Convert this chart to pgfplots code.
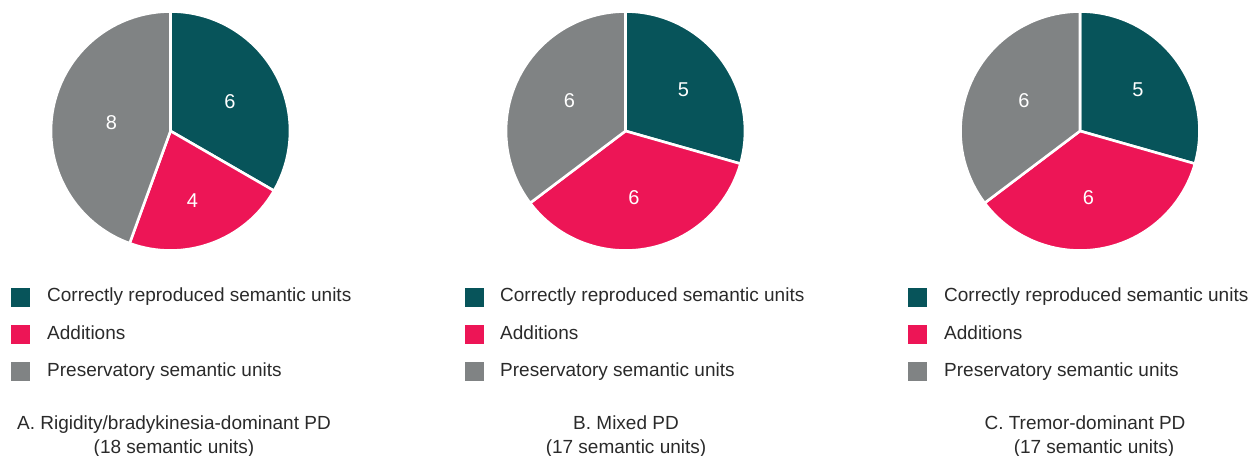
\documentclass[border=0pt]{standalone}
\usepackage{pgfplots}
\usepackage{pgfplotstable}
\pgfplotsset{compat=1.18}
\usepackage{fontspec}
\setmainfont{Liberation Sans}
\definecolor{cteal}{HTML}{07545A}
\definecolor{cred}{HTML}{ED1556}
\definecolor{cgray}{HTML}{808384}
\definecolor{txt}{HTML}{2A2A2A}
\tikzset{pielabel/.style={text=white,font=\fontsize{20}{22}\selectfont,inner sep=0pt},
  leg/.style={anchor=base west,inner sep=0pt,text=txt,font=\fontsize{19}{22}\selectfont},
  ttl/.style={anchor=base,inner sep=0pt,text=txt,font=\fontsize{19}{22}\selectfont}}

% value = count of semantic units; lx, ly = label position relative to the centre
\pgfplotstableread{
slice value lx ly
correct 6 59.5 29
additions 4 22 -70
preservatory 8 -59 8
}\pieA
\pgfplotstableread{
slice value lx ly
correct 5 58 41
additions 6 8.5 -67
preservatory 6 -56 30
}\pieB
\pgfplotstableread{
slice value lx ly
correct 5 58 41
additions 6 8.5 -67
preservatory 6 -56 30
}\pieC

\newcommand\drawpie[1]{%
 \pgfplotstablegetelem{0}{value}\of#1\let\pieVa\pgfplotsretval
 \pgfplotstablegetelem{1}{value}\of#1\let\pieVb\pgfplotsretval
 \pgfplotstablegetelem{2}{value}\of#1\let\pieVc\pgfplotsretval
 \pgfplotstablegetelem{0}{lx}\of#1\let\pieXa\pgfplotsretval
 \pgfplotstablegetelem{1}{lx}\of#1\let\pieXb\pgfplotsretval
 \pgfplotstablegetelem{2}{lx}\of#1\let\pieXc\pgfplotsretval
 \pgfplotstablegetelem{0}{ly}\of#1\let\pieYa\pgfplotsretval
 \pgfplotstablegetelem{1}{ly}\of#1\let\pieYb\pgfplotsretval
 \pgfplotstablegetelem{2}{ly}\of#1\let\pieYc\pgfplotsretval
 \pgfmathsetmacro\pieTot{\pieVa+\pieVb+\pieVc}%
 \pgfmathsetmacro\pieAa{90-360*\pieVa/\pieTot}%
 \pgfmathsetmacro\pieAb{\pieAa-360*\pieVb/\pieTot}%
 \edef\pieTmp{%
  \noexpand\fill[cteal,draw=white,line width=2.6pt,line join=round] (axis cs:0,0) -- (axis cs:0,119.5) arc[start angle=90,end angle=\pieAa,radius=119.5pt] -- cycle;
  \noexpand\fill[cred,draw=white,line width=2.6pt,line join=round] (axis cs:0,0) -- (axis cs:{119.5*cos(\pieAa)},{119.5*sin(\pieAa)}) arc[start angle=\pieAa,end angle=\pieAb,radius=119.5pt] -- cycle;
  \noexpand\fill[cgray,draw=white,line width=2.6pt,line join=round] (axis cs:0,0) -- (axis cs:{119.5*cos(\pieAb)},{119.5*sin(\pieAb)}) arc[start angle=\pieAb,end angle=-270,radius=119.5pt] -- cycle;
  \noexpand\node[pielabel] at (axis cs:\pieXa,\pieYa) {\pieVa};
  \noexpand\node[pielabel] at (axis cs:\pieXb,\pieYb) {\pieVb};
  \noexpand\node[pielabel] at (axis cs:\pieXc,\pieYc) {\pieVc};
 }\pieTmp}

\begin{document}
\begin{tikzpicture}
\useasboundingbox (0,0) rectangle (1249pt,455pt);
\pgfplotsset{pieaxis/.style={x=1pt,y=1pt,xmin=-125,xmax=125,ymin=-125,ymax=125,hide axis,clip=false,anchor=center}}
\begin{axis}[pieaxis,at={(170.5pt,324pt)}]
\drawpie{\pieA}
\end{axis}
\begin{axis}[pieaxis,at={(625.5pt,324pt)}]
\drawpie{\pieB}
\end{axis}
\begin{axis}[pieaxis,at={(1080pt,324pt)}]
\drawpie{\pieC}
\end{axis}
% legends
\foreach \lx/\tx in {11/47,465/500,908/944}{
  \fill[cteal] (\lx pt,167pt) rectangle ++(19pt,-19pt);
  \fill[cred] (\lx pt,130pt) rectangle ++(19pt,-19pt);
  \fill[cgray] (\lx pt,93pt) rectangle ++(19pt,-19pt);
  \node[leg] at (\tx pt,153pt) {Correctly reproduced semantic units};
  \node[leg] at (\tx pt,115pt) {Additions};
  \node[leg] at (\tx pt,78pt) {Preservatory semantic units};
}
% titles
\node[ttl] at (174pt,26pt) {A. Rigidity/bradykinesia-dominant PD};
\node[ttl] at (174pt,2pt) {(18 semantic units)};
\node[ttl] at (626pt,26pt) {B. Mixed PD};
\node[ttl] at (626pt,2pt) {(17 semantic units)};
\node[ttl] at (1085pt,26pt) {C. Tremor-dominant PD};
\node[ttl] at (1094pt,2pt) {(17 semantic units)};
\end{tikzpicture}
\end{document}
